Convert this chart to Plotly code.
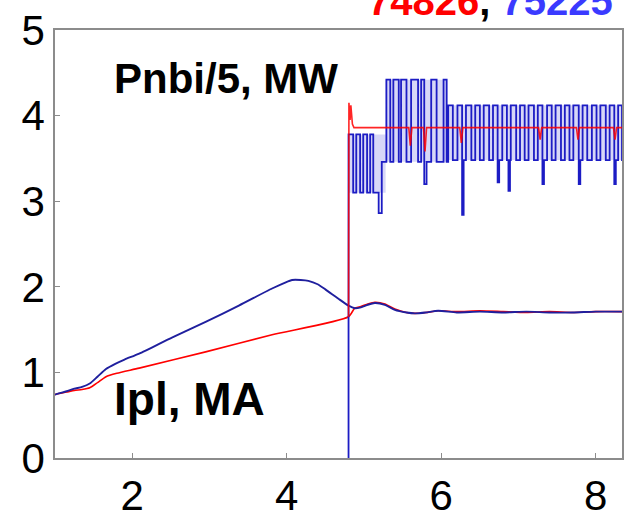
import plotly.graph_objects as go

# ---- data ----
# Plasma current (MA), shot 75225 (blue)
ipl_b_t = [1.00, 1.03, 1.15, 1.25, 1.35, 1.45, 1.55, 1.66, 1.78, 1.90, 2.09, 2.52, 2.95, 3.38, 3.81, 3.98, 4.07,
           4.18, 4.28, 4.40, 4.50, 4.67, 4.80,
           4.88, 4.96, 5.05, 5.14, 5.27, 5.40, 5.55, 5.66, 5.80, 5.96, 6.20, 6.50, 6.80, 7.10, 7.40, 7.70, 8.00, 8.34]
ipl_b_v = [0.74, 0.75, 0.78, 0.81, 0.83, 0.87, 0.95, 1.04, 1.10, 1.15, 1.22, 1.41, 1.59, 1.78, 1.98, 2.05, 2.08,
           2.08, 2.07, 2.03, 1.97, 1.86, 1.78,
           1.75, 1.76, 1.79, 1.81, 1.79, 1.73, 1.70, 1.69, 1.70, 1.72, 1.70, 1.71, 1.70, 1.71, 1.70, 1.70, 1.71, 1.71]

# Plasma current (MA), shot 74826 (red)
ipl_r_t = [1.00, 1.03, 1.15, 1.25, 1.35, 1.45, 1.55, 1.66, 1.80, 2.09, 2.95, 3.81, 4.80, 4.88, 4.96, 5.05,
           5.14, 5.27, 5.40, 5.55, 5.66, 5.80, 5.96, 6.20, 6.50, 6.80, 7.10, 7.40, 7.70, 8.00, 8.34]
ipl_r_v = [0.74, 0.75, 0.77, 0.79, 0.80, 0.82, 0.88, 0.95, 0.99, 1.05, 1.24, 1.44, 1.65, 1.75, 1.77, 1.80,
           1.82, 1.80, 1.74, 1.70, 1.69, 1.70, 1.72, 1.71, 1.72, 1.71, 1.70, 1.71, 1.70, 1.71, 1.71]

# NBI power / 5 (MW), shot 75225 (blue) - step signal
nbi_b_t = [4.80, 4.80, 4.86, 4.90, 4.95, 4.99, 5.04, 5.08, 5.12, 5.19, 5.23, 5.29, 5.34, 5.38, 5.45, 5.48,
           5.55, 5.61, 5.70, 5.74, 5.78, 5.81, 5.87, 5.94, 6.03, 6.07,
           6.09, 6.15, 6.21, 6.27, 6.29, 6.32, 6.39, 6.44, 6.50, 6.55, 6.62, 6.67, 6.73, 6.75,
           6.79, 6.85, 6.87, 6.89, 6.90, 6.97, 7.02, 7.08, 7.13, 7.20, 7.25, 7.31, 7.33,
           7.37, 7.43, 7.48, 7.55, 7.60, 7.66, 7.71, 7.78, 7.80, 7.83, 7.89, 7.95, 8.01,
           8.06, 8.13, 8.18, 8.24, 8.26, 8.29, 8.34, 8.40]
nbi_b_v = [0.00, 3.78, 3.10, 3.78, 3.10, 3.78, 3.10, 3.78, 3.10, 2.86, 3.46, 4.42, 3.46, 4.42, 3.46, 4.42,
           3.46, 4.42, 3.46, 4.42, 3.20, 3.46, 4.42, 3.46, 4.42, 3.46,
           4.12, 3.48, 4.12, 2.84, 3.48, 4.12, 3.48, 4.12, 3.48, 4.12, 3.48, 4.12, 3.22, 3.48,
           4.12, 3.48, 3.12, 3.48, 4.12, 3.48, 4.12, 3.48, 4.12, 3.48, 4.12, 3.20, 3.48,
           4.12, 3.48, 4.12, 3.48, 4.12, 3.48, 4.12, 3.20, 3.48, 4.12, 3.48, 4.12, 3.48,
           4.12, 3.48, 4.12, 3.20, 3.48, 4.12, 3.48, 3.48]

# light haze seen between the fast NBI modulation lines (blurred dense signal)
haze_t = [4.80, 5.28, 5.28, 6.08, 6.08, 8.40]
haze_lo = [3.10, 3.10, 3.46, 3.46, 3.48, 3.48]
haze_hi = [3.78, 3.78, 4.42, 4.42, 4.12, 4.12]

# NBI power / 5 (MW), shot 74826 (red)
nbi_r_t = [4.80, 4.805, 4.82, 4.83, 4.85, 4.87, 5.58, 5.60, 5.62, 5.77, 5.79, 5.81, 6.24, 6.26, 6.28,
           7.26, 7.28, 7.30, 7.75, 7.77, 7.79, 8.23, 8.25, 8.27, 8.40]
nbi_r_v = [1.65, 4.15, 3.95, 4.12, 3.90, 3.86, 3.86, 3.65, 3.86, 3.86, 3.58, 3.86, 3.86, 3.68, 3.86,
           3.86, 3.72, 3.86, 3.86, 3.72, 3.86, 3.86, 3.72, 3.86, 3.86]

x_ticks = [2, 4, 6, 8]
y_ticks = [0, 1, 2, 3, 4, 5]

RED = "#ff0000"
BLUE_IPL = "#1f1f9e"
BLUE_NBI = "#1c1cc4"
FONT = "Liberation Sans"

fig = go.Figure()
fig.add_trace(go.Scatter(x=haze_t, y=haze_lo, mode="lines", line=dict(width=0, color="rgba(0,0,0,0)"),
                         hoverinfo="skip", showlegend=False))
fig.add_trace(go.Scatter(x=haze_t, y=haze_hi, mode="lines", line=dict(width=0, color="rgba(0,0,0,0)"),
                         fill="tonexty", fillcolor="rgba(110,110,225,0.28)",
                         hoverinfo="skip", showlegend=False))
fig.add_trace(go.Scatter(x=ipl_r_t, y=ipl_r_v, mode="lines", line_shape="spline",
                         line=dict(color=RED, width=1.6, smoothing=0.6), showlegend=False))
fig.add_trace(go.Scatter(x=ipl_b_t, y=ipl_b_v, mode="lines", line_shape="spline",
                         line=dict(color=BLUE_IPL, width=1.9, smoothing=0.6), showlegend=False))
fig.add_trace(go.Scatter(x=nbi_b_t, y=nbi_b_v, mode="lines", line_shape="hv",
                         line=dict(color=BLUE_NBI, width=1.8), showlegend=False))
fig.add_trace(go.Scatter(x=nbi_r_t, y=nbi_r_v, mode="lines",
                         line=dict(color=RED, width=1.6), opacity=0.85, showlegend=False))

axis_common = dict(showline=True, linecolor="#8c8c8c", linewidth=1.5, mirror=True,
                   ticks="inside", ticklen=5, tickwidth=1, tickcolor="#8c8c8c",
                   showgrid=False, zeroline=False,
                   tickfont=dict(family=FONT, size=42, color="black"))

fig.update_xaxes(range=[1.0, 8.34], tickvals=x_ticks, ticktext=[str(v) for v in x_ticks], **axis_common)
fig.update_yaxes(range=[0, 5], tickvals=y_ticks, ticktext=[str(v) for v in y_ticks], **axis_common)

fig.add_annotation(x=0.1, y=0.887, xref="paper", yref="paper", xanchor="left", yanchor="middle",
                   text="<b>Pnbi/5, MW</b>", showarrow=False,
                   font=dict(family=FONT, size=42, color="black"))
fig.add_annotation(x=0.1, y=0.137, xref="paper", yref="paper", xanchor="left", yanchor="middle",
                   text="<b>Ipl, MA</b>", showarrow=False,
                   font=dict(family=FONT, size=46, color="black"))
fig.add_annotation(x=0.548, y=1.0676, xref="paper", yref="paper", xanchor="left", yanchor="middle",
                   text="<b><span style='color:#ff0000'>74826</span>, "
                        "<span style='color:#3a3aff'>75225</span></b>",
                   showarrow=False, font=dict(family=FONT, size=40, color="black"))

fig.update_layout(width=624, height=519, margin=dict(l=55, r=0, t=30, b=45),
                  paper_bgcolor="white", plot_bgcolor="white")

fig.write_html("out.html")
